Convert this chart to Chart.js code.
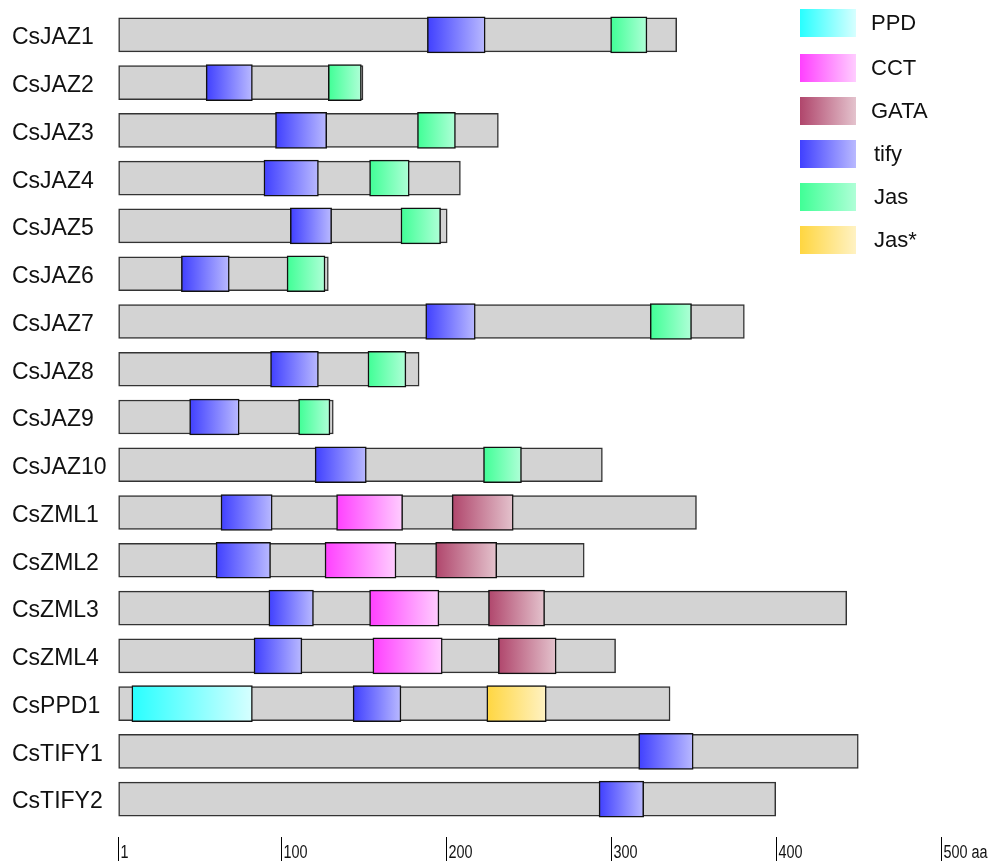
<!DOCTYPE html>
<html>
<head>
<meta charset="utf-8">
<script src="https://cdn.jsdelivr.net/npm/chart.js@4"></script>
<style>
  html, body { margin: 0; padding: 0; background: #fff; }
  #wrap { width: 998px; height: 861px; }
</style>
</head>
<body>
<div id="wrap"><canvas id="graficoDominios"></canvas></div>
<script>
// proteinas y longitudes (aa)
const proteinas = ['CsJAZ1', 'CsJAZ2', 'CsJAZ3', 'CsJAZ4', 'CsJAZ5', 'CsJAZ6', 'CsJAZ7', 'CsJAZ8', 'CsJAZ9', 'CsJAZ10',
                   'CsZML1', 'CsZML2', 'CsZML3', 'CsZML4', 'CsPPD1', 'CsTIFY1', 'CsTIFY2'];
const longitudes = [339, 149, 231, 208, 200, 128, 380, 183, 131, 294, 351, 283, 442, 302, 335, 449, 399];

// dominios [inicio, fin], null = no tiene
const ppd  = [null, null, null, null, null, null, null, null, null, null, null, null, null, null, [9, 82], null, null];
const cct  = [null, null, null, null, null, null, null, null, null, null, [133, 173], [126, 169], [153, 195], [155, 197], null, null, null];
const gata = [null, null, null, null, null, null, null, null, null, null, [203, 240], [193, 230], [225, 259], [231, 266], null, null, null];
const tify = [[188, 223], [54, 82], [96, 127], [89, 122], [105, 130], [39, 68], [187, 217], [93, 122], [44, 74], [120, 151],
              [63, 94], [60, 93], [92, 119], [83, 112], [143, 172], [316, 349], [292, 319]];
const jas  = [[299, 321], [128, 148], [182, 205], [153, 177], [172, 196], [103, 126], [323, 348], [152, 175], [110, 129], [222, 245],
              null, null, null, null, null, null, null];
const jasEstrella = [null, null, null, null, null, null, null, null, null, null, null, null, null, null, [224, 260], null, null];

// escala de abajo
const ticksEje = [1, 100, 200, 300, 400, 500];
const etiquetasEje = ['1', '100', '200', '300', '400', '500 aa'];

// colores degradados (izquierda -> derecha)
const colores = {
    PPD:  ['rgb(40,255,255)', 'rgb(215,255,255)'],
    CCT:  ['rgb(255,64,255)', 'rgb(255,205,255)'],
    GATA: ['rgb(176,70,108)', 'rgb(228,195,205)'],
    tify: ['rgb(64,64,255)',  'rgb(185,185,255)'],
    Jas:  ['rgb(64,255,150)', 'rgb(175,255,215)'],
    'Jas*': ['rgb(255,214,64)', 'rgb(255,242,195)']
};

const degradado = (nombre) => (c) => {
    const chart = c.chart;
    const p = c.parsed;
    if (!chart.chartArea || !p || !p._custom) return colores[nombre][0];
    const x = chart.scales.x;
    const x0 = x.getPixelForValue(p._custom.start);
    const x1 = x.getPixelForValue(p._custom.end);
    const g = chart.ctx.createLinearGradient(x0, 0, x1, 0);
    g.addColorStop(0, colores[nombre][0]);
    g.addColorStop(1, colores[nombre][1]);
    return g;
};

const dominio = (nombre, datos) => ({
    label: nombre,
    data: datos,
    backgroundColor: degradado(nombre),
    borderColor: '#111',
    borderWidth: 1.5,
    borderSkipped: false,
    barThickness: 36,
    grouped: false,
    order: 0
});

const ejeAbajo = {
    id: 'ejeAbajo',
    afterDraw(chart) {
        const ctx = chart.ctx;
        const x = chart.scales.x;
        ctx.save();
        ctx.strokeStyle = '#000';
        ctx.lineWidth = 1;
        ctx.fillStyle = '#111';
        ctx.font = '18px "Liberation Sans", Arial, sans-serif';
        ctx.textBaseline = 'alphabetic';
        ctx.textAlign = 'left';
        ticksEje.forEach((v, i) => {
            const px = Math.round(x.getPixelForValue(v)) - 0.5;
            ctx.beginPath();
            ctx.moveTo(px, 837);
            ctx.lineTo(px, 861);
            ctx.stroke();
            // letra estrecha como en el original
            ctx.save();
            ctx.translate(px + 2, 858);
            ctx.scale(0.8, 1);
            ctx.fillText(etiquetasEje[i], 0, 0);
            ctx.restore();
        });
        ctx.restore();
    }
};

const leyenda = {
    id: 'leyenda',
    afterDraw(chart) {
        const ctx = chart.ctx;
        const nombres = ['PPD', 'CCT', 'GATA', 'tify', 'Jas', 'Jas*'];
        const ys = [23, 68, 111, 154, 197, 240];
        ctx.save();
        ctx.font = '22px "Liberation Sans", Arial, sans-serif';
        ctx.textBaseline = 'middle';
        nombres.forEach((n, i) => {
            const g = ctx.createLinearGradient(800, 0, 856, 0);
            g.addColorStop(0, colores[n][0]);
            g.addColorStop(1, colores[n][1]);
            ctx.fillStyle = g;
            ctx.fillRect(800, ys[i] - 14, 56, 28);
            ctx.fillStyle = '#111';
            ctx.fillText(n, i < 3 ? 871 : 874, ys[i] + 1);
        });
        ctx.restore();
    }
};

new Chart(document.getElementById('graficoDominios'), {
    type: 'bar',
    data: {
        labels: proteinas,
        datasets: [
            dominio('PPD', ppd),
            dominio('CCT', cct),
            dominio('GATA', gata),
            dominio('tify', tify),
            dominio('Jas', jas),
            dominio('Jas*', jasEstrella),
            {
                label: 'proteina',
                data: longitudes.map(l => [1, l]),
                backgroundColor: '#d3d3d3',
                borderColor: '#333',
                borderWidth: 1.5,
                borderSkipped: false,
                barThickness: 34,
                grouped: false,
                order: 10
            }
        ]
    },
    options: {
        indexAxis: 'y',
        responsive: true,
        maintainAspectRatio: false,
        animation: false,
        layout: { padding: { left: 12, right: 6, top: 11, bottom: 38 } },
        plugins: { legend: { display: false }, tooltip: { enabled: false } },
        scales: {
            x: { type: 'linear', min: 0, max: 530, display: false },
            y: {
                grid: { display: false },
                border: { display: false },
                ticks: {
                    crossAlign: 'far',
                    labelOffset: 3,
                    color: '#111',
                    font: { family: '"Liberation Sans", Arial, sans-serif', size: 23 }
                },
                afterFit: (scale) => {
                    scale.width = 105;
                    scale.paddingTop = 0;
                    scale.paddingBottom = 0;
                }
            }
        }
    },
    plugins: [ejeAbajo, leyenda]
});
</script>
</body>
</html>
